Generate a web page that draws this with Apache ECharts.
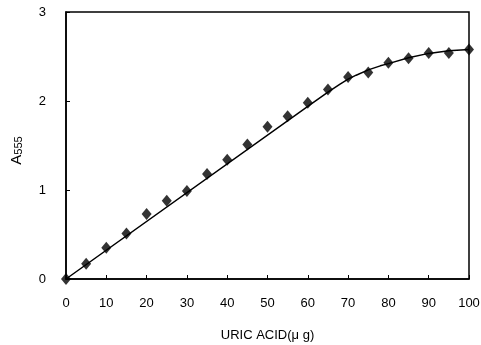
<!DOCTYPE html>
<html>
<head>
<meta charset="utf-8">
<script src="https://cdn.jsdelivr.net/npm/echarts@6/dist/echarts.min.js"></script>
<style>
html,body{margin:0;padding:0;background:#fff;}
#c{width:481px;height:345px;}
</style>
</head>
<body>
<div id="c"></div>
<script>
// Measured points
var uricAcid = [0,5,10,15,20,25,30,35,40,45,50,55,60,65,70,75,80,85,90,95,100];
var absorbance = [0,0.17,0.35,0.51,0.73,0.88,0.99,1.18,1.34,1.51,1.71,1.83,1.98,2.13,2.27,2.32,2.43,2.48,2.54,2.54,2.58];
// Fitted curve
var curveX = [0,60,65,68,70,72,75,78,80,85,90,95,100];
var curveY = [0,1.94,2.10,2.19,2.245,2.29,2.35,2.395,2.42,2.485,2.535,2.565,2.58];
var xTicks = [0,10,20,30,40,50,60,70,80,90,100];
var yTicks = [0,1,2,3];

var chart = echarts.init(document.getElementById('c'), null, {renderer:'canvas'});
var font = 'Liberation Sans, Arial, sans-serif';
chart.setOption({
  animation:false,
  backgroundColor:'#fff',
  grid:{left:66,right:12,top:12,bottom:66,containLabel:false,outerBoundsMode:'none',
        show:true,borderColor:'#000',borderWidth:1.5,backgroundColor:'transparent'},
  xAxis:{
    type:'value',min:xTicks[0],max:xTicks[xTicks.length-1],interval:10,
    name:'URIC ACID(\u03bc g)',nameLocation:'middle',nameGap:50,
    nameTextStyle:{color:'#000',fontSize:13,fontFamily:font},
    axisLine:{show:true,lineStyle:{color:'#000',width:1.5}},
    axisTick:{show:true,inside:true,length:4,lineStyle:{color:'#000',width:1}},
    axisLabel:{color:'#000',fontSize:13,fontFamily:font,margin:18},
    splitLine:{show:false}
  },
  yAxis:{
    type:'value',min:yTicks[0],max:yTicks[yTicks.length-1],interval:1,
    name:'{a|A}{s|555}',nameLocation:'middle',nameGap:42,
    nameTextStyle:{color:'#000',fontFamily:font,padding:[0,0,0,-10],
      rich:{a:{fontSize:15,color:'#000',fontFamily:font,verticalAlign:'bottom'},
            s:{fontSize:11,color:'#000',fontFamily:font,verticalAlign:'bottom'}}},
    axisLine:{show:true,lineStyle:{color:'#000',width:1.5}},
    axisTick:{show:true,inside:true,length:4,lineStyle:{color:'#000',width:1}},
    axisLabel:{color:'#000',fontSize:13,fontFamily:font,margin:20},
    splitLine:{show:false}
  },
  series:[
    {
      type:'line',
      data:curveX.map(function(x,i){return [x,curveY[i]];}),
      smooth:false,
      showSymbol:false,symbol:'none',
      lineStyle:{color:'#000',width:1.5},
      z:2
    },
    {
      type:'scatter',
      data:uricAcid.map(function(x,i){return [x,absorbance[i]];}),
      symbol:'diamond',symbolSize:[10,12],
      itemStyle:{color:'#000'},
      z:3
    }
  ]
});
</script>
</body>
</html>
